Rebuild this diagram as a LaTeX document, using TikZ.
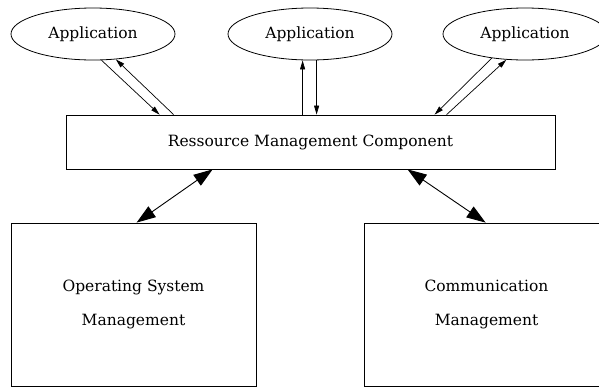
\documentclass[tikz,border=0pt]{standalone}
\usepackage{fontspec}
\setmainfont{DejaVu Serif}
\usetikzlibrary{shapes.geometric,arrows.meta,calc}
\begin{document}
\begin{tikzpicture}[x=1pt,y=-1pt,
  lbl/.style={font=\fontsize{15.5}{34}\selectfont},
  app/.style={draw,ellipse,line width=0.8pt,minimum width=164pt,minimum height=52pt,inner sep=0pt,lbl},
  box/.style={draw,rectangle,line width=0.8pt,inner sep=0pt,lbl,align=center},
  sa/.style={line width=0.7pt,-{Triangle[length=9pt,width=5pt]}},
  da/.style={line width=0.9pt,{Triangle[length=19pt,width=13pt]}-{Triangle[length=19pt,width=13pt]}}]
\useasboundingbox (0,0) rectangle (599,389);
\node[app] (e1) at (93,34) {Application};
\node[app] (e2) at (310,34) {Application};
\node[app] (e3) at (525,34) {Application};
\node[box,minimum width=489pt,minimum height=54pt] (r) at (310.5,142) {Ressource Management Component};
\node[box,minimum width=245pt,minimum height=163pt] (b1) at (133.5,304.5) {Operating System\\Management};
\node[box,minimum width=245pt,minimum height=163pt] (b2) at (486.5,304.5) {Communication\\Management};
\coordinate (p1) at ($(r.north west)+(237,0)$);
\coordinate (p2) at ($(r.north west)+(251,0)$);
% arrows between applications and resource management
\draw[sa] (e1.-72.8) -- ($(r.north west)+(94,0)$);
\draw[sa] ($(r.north west)+(108,0)$) -- (e1.-48.7);
\draw[sa] (p1) -- (p1 |- e2.south);
\draw[sa] (p2 |- e2.south) -- (p2);
\draw[sa] (e3.-144.2) -- ($(r.north west)+(369,0)$);
\draw[sa] ($(r.north west)+(381,0)$) -- (e3.-126.9);
% double arrows
\draw[da] ($(b1.north west)+(126,0)$) -- ($(r.south west)+(147,0)$);
\draw[da] ($(r.south west)+(342,0)$) -- ($(b2.north west)+(122,0)$);
\end{tikzpicture}
\end{document}
